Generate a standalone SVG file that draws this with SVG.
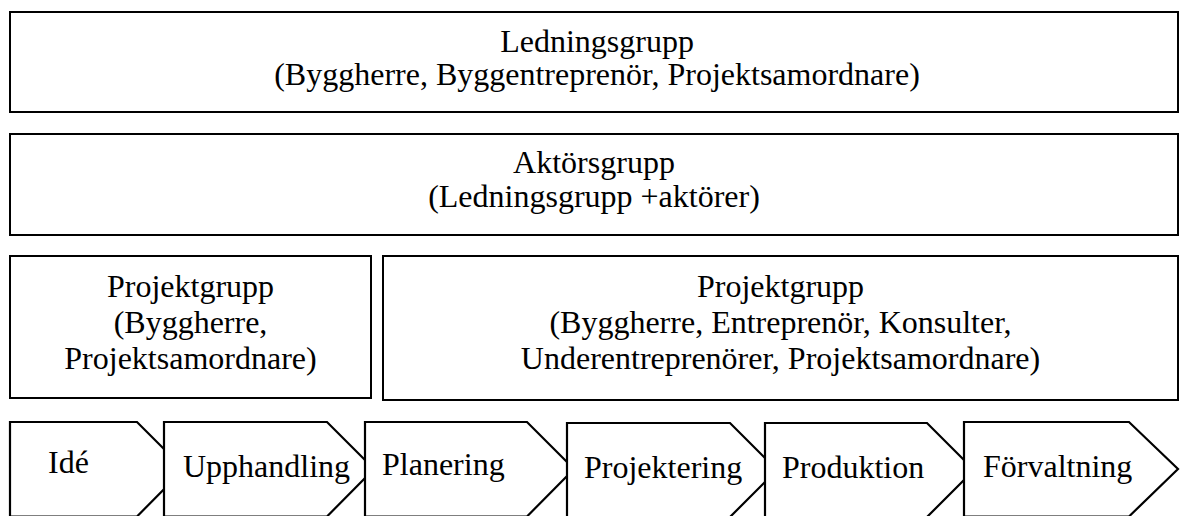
<svg xmlns="http://www.w3.org/2000/svg" width="1180" height="516" viewBox="0 0 1180 516">
  <style>
    .box { fill: #ffffff; stroke: #000000; stroke-width: 2; }
    .step { fill: #ffffff; stroke: #000000; stroke-width: 2.2; stroke-linejoin: miter; }
    .lbl { font-size: 32px; fill: #000000; }
    .c { text-anchor: middle; }
  </style>
  <rect width="1180" height="516" fill="#ffffff"/>

  <g font-family="'Liberation Serif', 'DejaVu Serif', serif">
  <!-- Organisation levels -->
  <g id="ledningsgrupp">
    <rect class="box" x="10" y="12" width="1168" height="100"/>
    <text class="lbl c" x="597" y="52">Ledningsgrupp</text>
    <text class="lbl c" x="597" y="85">(Byggherre, Byggentreprenör, Projektsamordnare)</text>
  </g>

  <g id="aktorsgrupp">
    <rect class="box" x="10" y="134" width="1168" height="101"/>
    <text class="lbl c" x="594" y="173">Aktörsgrupp</text>
    <text class="lbl c" x="594" y="207">(Ledningsgrupp +aktörer)</text>
  </g>

  <g id="projektgrupp-tidig">
    <rect class="box" x="10" y="256" width="361" height="142"/>
    <text class="lbl c" x="190.5" y="297">Projektgrupp</text>
    <text class="lbl c" x="190.5" y="333">(Byggherre,</text>
    <text class="lbl c" x="190.5" y="369">Projektsamordnare)</text>
  </g>

  <g id="projektgrupp-sen">
    <rect class="box" x="383" y="256" width="795" height="144"/>
    <text class="lbl c" x="780.5" y="297">Projektgrupp</text>
    <text class="lbl c" x="780.5" y="333">(Byggherre, Entreprenör, Konsulter,</text>
    <text class="lbl c" x="780.5" y="369">Underentreprenörer, Projektsamordnare)</text>
  </g>

  <!-- Process phases, each arrow drawn over the tip of the previous one -->
  <g id="fas-ide">
    <path class="step" d="M10,422 H137 L184,469 L137,516.5 H10 Z"/>
    <text class="lbl" x="48" y="473">Idé</text>
  </g>
  <g id="fas-upphandling">
    <path class="step" d="M164,422 H327 L374,469 L327,516.5 H164 Z"/>
    <text class="lbl" x="183" y="477">Upphandling</text>
  </g>
  <g id="fas-planering">
    <path class="step" d="M365,422 H527 L574,469 L527,516.5 H365 Z"/>
    <text class="lbl" x="382" y="475">Planering</text>
  </g>
  <g id="fas-projektering">
    <path class="step" d="M567,423 H730 L777,470 L730,517 H567 Z"/>
    <text class="lbl" x="584" y="478">Projektering</text>
  </g>
  <g id="fas-produktion">
    <path class="step" d="M765,423 H927 L974,470 L927,517 H765 Z"/>
    <text class="lbl" x="782" y="478">Produktion</text>
  </g>
  <g id="fas-forvaltning">
    <path class="step" d="M964,422 H1129 L1178,469 L1129,516.5 H964 Z"/>
    <text class="lbl" x="983" y="477">Förvaltning</text>
  </g>
  </g>
</svg>
